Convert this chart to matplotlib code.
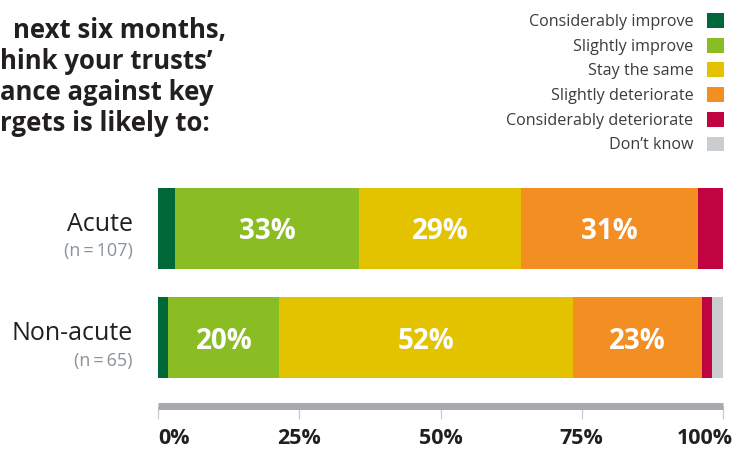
import matplotlib
matplotlib.use("Agg")
import matplotlib.pyplot as plt
from matplotlib.transforms import ScaledTranslation

plt.rcParams["font.family"] = ["Open Sans", "DejaVu Sans"]

# --- data -------------------------------------------------------------
categories = ["Acute", "Non-acute"]
sample_sizes = ["(n\u2009=\u2009107)", "(n\u2009=\u200965)"]
responses = ["Considerably improve", "Slightly improve", "Stay the same",
             "Slightly deteriorate", "Considerably deteriorate", "Don\u2019t know"]
acute = [3.0, 32.6, 28.6, 31.4, 4.4, 0.0]
non_acute = [1.8, 19.7, 52.0, 22.7, 1.9, 1.9]
colors = ["#006838", "#8ABD24", "#E3C300", "#F28E22", "#C00440", "#CBCED0"]
tick_values = [0, 25, 50, 75, 100]
tick_labels = ["0%", "25%", "50%", "75%", "100%"]
title_lines = ["next six months,", "hink your trusts\u2019",
               "ance against key", "rgets is likely to:"]

# --- layout helpers (pixel -> figure fraction) -------------------------
W, H = 749, 450
def fx(x):
    return x / W
def fy(y):
    return 1 - y / H

fig = plt.figure(figsize=(W / 100, H / 100), dpi=100)
ax = fig.add_axes([fx(158), fy(406), (723 - 158) / W, (406 - 175) / H])

dark = "#231F20"
pitch = 109.5  # px between bar centres

# --- stacked bars ------------------------------------------------------
ypos = list(range(len(categories)))
left = [0.0] * len(categories)
for i, name in enumerate(responses):
    vals = [acute[i], non_acute[i]]
    ax.barh(ypos, vals, left=left, height=0.74, color=colors[i],
            label=name, linewidth=0)
    for j, v in enumerate(vals):
        if v >= 10:
            ax.text(left[j] + v / 2, j, f"{v:.0f}%", ha="center",
                    va="center_baseline", color="white", fontsize=20,
                    fontweight="bold")
    left = [l + v for l, v in zip(left, vals)]

ax.set_xlim(0, 100)
ax.set_ylim(1 + (406 - 337.5) / pitch, -(228.5 - 175) / pitch)

# --- category labels ---------------------------------------------------
ytr = ax.get_yaxis_transform()
for j, (cat, n) in enumerate(zip(categories, sample_sizes)):
    ax.text(-0.0443, j + 2.5 / pitch, cat, transform=ytr, ha="right",
            va="baseline", fontsize=18, color=dark)
    ax.text(-0.0443, j + 28 / pitch, n, transform=ytr, ha="right",
            va="baseline", fontsize=13, color="#8A939A")

# --- axis --------------------------------------------------------------
for side in ["top", "left", "right"]:
    ax.spines[side].set_visible(False)
ax.spines["bottom"].set_color("#A7A9AC")
ax.spines["bottom"].set_linewidth(5)
ax.spines["bottom"].set_capstyle("butt")
ax.set_yticks([])
ax.set_xticks(tick_values, tick_labels)
ax.tick_params(axis="x", length=9.7, width=0.9, color="#C8CACC", pad=6,
               labelsize=15.5, labelcolor=dark)

ticklabels = ax.get_xticklabels()
for lab in ticklabels:
    lab.set_fontweight("bold")
ticklabels[0].set_horizontalalignment("left")
ticklabels[-1].set_horizontalalignment("right")
ticklabels[-1].set_transform(ticklabels[-1].get_transform()
                             + ScaledTranslation(0.10, 0, fig.dpi_scale_trans))

# --- title -------------------------------------------------------------
title_x = [13, 0, 0, 0]
title_base = [38, 69, 100, 131]
for line, x, b in zip(title_lines, title_x, title_base):
    fig.text(fx(x), fy(b), line, ha="left", va="baseline", fontsize=18.5,
             fontweight="bold", color=dark)

# --- legend ------------------------------------------------------------
handles, labels = ax.get_legend_handles_labels()
fig.legend(handles, labels, loc="upper right",
           bbox_to_anchor=(fx(723.5), fy(13)), frameon=False,
           markerfirst=False, fontsize=11.6, handlelength=1.0,
           handleheight=1.05, handletextpad=0.87, labelspacing=0.48,
           borderaxespad=0, borderpad=0, labelcolor="#3C3C3C")

fig.savefig("out.png", dpi=100)
